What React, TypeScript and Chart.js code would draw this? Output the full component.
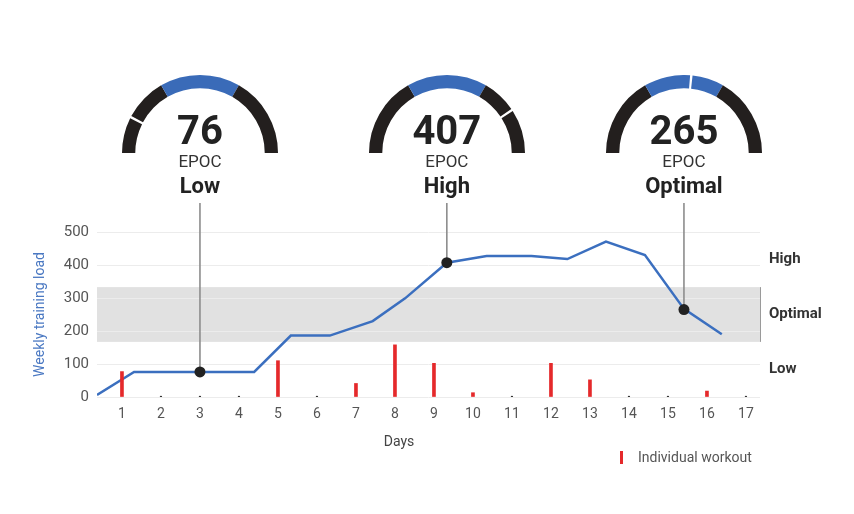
import React, { useEffect, useRef } from "react";
import { Chart, registerables } from "chart.js";

Chart.register(...registerables);
Chart.defaults.font.family = "Roboto";

// ---- data ----
const lineDays = [0.36, 1.31, 4.39, 5.33, 6.33, 7.43, 8.26, 9.33, 10.35, 11.5, 12.42, 13.41, 14.41, 15.41, 16.38];
const lineLoad = [6, 76, 76, 186, 186, 230, 299, 407, 427, 427, 418, 471, 430, 267, 190];
const workoutDays = [1, 2, 3, 4, 5, 6, 7, 8, 9, 10, 11, 12, 13, 14, 15, 16, 17];
const workoutLoad = [77, 0, 0, 0, 110, 0, 41, 158, 102, 13, 0, 102, 52, 0, 0, 18, 0];
const epocDays = [3, 9.33, 15.41];
const epocValues = [76, 407, 265];
const epocLabels = ["Low", "High", "Optimal"];
const zoneBounds = [0, 167, 333, 500];
const zoneNames = ["Low", "Optimal", "High"];
const yTicks = [0, 100, 200, 300, 400, 500];
const dayTicks = [1, 2, 3, 4, 5, 6, 7, 8, 9, 10, 11, 12, 13, 14, 15, 16, 17];
const xMin = 0.36;
const xMax = 17.36;

const BLUE = "#3b6fbf";
const DARK = "#231f1e";
const RED = "#e5292b";
const GAUGE_BLUE = "#3a6bb8";

// gauge centres in page px (same mapping as the main chart's x scale)
const plotLeft = 97;
const plotRight = 760;
const dayToPx = (d: number) => plotLeft + ((d - xMin) / (xMax - xMin)) * (plotRight - plotLeft);

function gaugeData(value: number) {
  const gap = 5;
  const data: number[] = [];
  const colors: string[] = [];
  for (let i = 0; i < 3; i++) {
    const a = zoneBounds[i];
    const b = zoneBounds[i + 1];
    const c = i === 1 ? GAUGE_BLUE : DARK;
    if (value >= a && value < b) {
      data.push(value - gap / 2 - a, gap, b - (value + gap / 2));
      colors.push(c, "rgba(255,255,255,0)", c);
    } else {
      data.push(b - a);
      colors.push(c);
    }
  }
  return { data, colors };
}

const R = 78;
const CY = 153;

function Gauge({ value, label, day }: { value: number; label: string; day: number }) {
  const ref = useRef<HTMLCanvasElement>(null);
  const cx = dayToPx(day);
  useEffect(() => {
    const { data, colors } = gaugeData(value);
    const chart = new Chart(ref.current!, {
      type: "doughnut",
      data: { datasets: [{ data, backgroundColor: colors, borderWidth: 0 }] },
      options: {
        responsive: false,
        animation: false,
        circumference: 180,
        rotation: -90,
        cutout: "83%",
        layout: { padding: 0 },
        plugins: { legend: { display: false }, tooltip: { enabled: false } },
        events: [],
      },
    });
    return () => chart.destroy();
  }, [value]);
  const textBase: React.CSSProperties = {
    position: "absolute",
    left: cx - 100,
    width: 200,
    textAlign: "center",
    fontFamily: "Roboto",
    color: "#222",
    whiteSpace: "nowrap",
  };
  return (
    <>
      <canvas
        ref={ref}
        width={R * 2}
        height={R}
        style={{ position: "absolute", left: cx - R, top: CY - R, width: R * 2, height: R }}
      />
      <div style={{ ...textBase, top: 131 - 22, height: 44, lineHeight: "44px", fontSize: 40, fontWeight: 700 }}>
        {value}
      </div>
      <div style={{ ...textBase, top: 161 - 10, height: 20, lineHeight: "20px", fontSize: 17, color: "#333" }}>EPOC</div>
      <div style={{ ...textBase, top: 186 - 13, height: 26, lineHeight: "26px", fontSize: 22, fontWeight: 700 }}>
        {label}
      </div>
    </>
  );
}

export default function App() {
  const ref = useRef<HTMLCanvasElement>(null);
  useEffect(() => {
    const bandPlugin = {
      id: "band",
      beforeDraw(chart: any) {
        const { ctx, chartArea, scales } = chart;
        const y = scales.y;
        const top = y.getPixelForValue(zoneBounds[2]);
        const bot = y.getPixelForValue(zoneBounds[1]);
        ctx.save();
        ctx.fillStyle = "#e1e1e1";
        ctx.fillRect(chartArea.left, top, chartArea.right - chartArea.left, bot - top);
        ctx.strokeStyle = "#9a9a9a";
        ctx.lineWidth = 1;
        ctx.beginPath();
        ctx.moveTo(chartArea.right + 0.5, top);
        ctx.lineTo(chartArea.right + 0.5, bot);
        ctx.stroke();
        ctx.restore();
      },
    };
    const leaderPlugin = {
      id: "leaders",
      beforeDatasetsDraw(chart: any) {
        const { ctx, chartArea, scales } = chart;
        ctx.save();
        ctx.strokeStyle = "#8c8c8c";
        ctx.lineWidth = 1.6;
        epocDays.forEach((d, i) => {
          const x = scales.x.getPixelForValue(d);
          const y = scales.y.getPixelForValue(epocValues[i]);
          ctx.beginPath();
          ctx.moveTo(x, y);
          ctx.lineTo(x, chartArea.top - 29);
          ctx.stroke();
        });
        ctx.restore();
      },
    };
    const chart = new Chart(ref.current!, {
      type: "line",
      data: {
        datasets: [
          {
            type: "line",
            data: lineDays.map((d, i) => ({ x: d, y: lineLoad[i] })),
            borderColor: BLUE,
            borderWidth: 2.5,
            pointRadius: 0,
            tension: 0,
            order: 3,
          } as any,
          {
            type: "bar",
            data: workoutDays.map((d, i) => ({ x: d, y: workoutLoad[i] })).filter((p) => p.y > 0),
            backgroundColor: RED,
            barThickness: 3,
            order: 2,
          } as any,
          {
            type: "scatter",
            data: workoutDays.map((d, i) => ({ x: d, y: workoutLoad[i] })).filter((p) => p.y === 0),
            pointRadius: 1.2,
            pointBackgroundColor: "#333",
            pointBorderWidth: 0,
            order: 2,
          } as any,
          {
            type: "scatter",
            data: epocDays.map((d, i) => ({ x: d, y: epocValues[i] })),
            pointRadius: 5.5,
            pointBackgroundColor: "#222",
            pointBorderWidth: 0,
            order: 1,
          } as any,
        ],
      },
      options: {
        responsive: false,
        animation: false,
        events: [],
        layout: { padding: { left: 28, right: 14, top: 232, bottom: 87 } },
        plugins: { legend: { display: false }, tooltip: { enabled: false } },
        scales: {
          x: {
            type: "linear",
            min: xMin,
            max: xMax,
            offset: false,
            grid: { display: false, drawTicks: false, offset: false },
            border: { display: false },
            afterBuildTicks: (s: any) => {
              s.ticks = dayTicks.map((v) => ({ value: v }));
            },
            afterFit: (s: any) => {
              s.height = 30;
            },
            ticks: { color: "#555", font: { size: 14 }, padding: 9, callback: (v: any) => String(v) },
          },
          y: {
            min: 0,
            max: 500,
            afterBuildTicks: (s: any) => {
              s.ticks = yTicks.map((v) => ({ value: v }));
            },
            afterFit: (s: any) => {
              s.width = 69;
            },
            grid: { color: "#ececec", drawTicks: false },
            border: { display: false },
            ticks: { color: "#555", font: { size: 15 }, padding: 8 },
            title: {
              display: true,
              text: "Weekly training load",
              color: "#4a78c2",
              font: { size: 14 },
            },
          },
          y2: {
            position: "right",
            min: 0,
            max: 500,
            afterBuildTicks: (s: any) => {
              s.ticks = zoneNames.map((_, i) => ({ value: (zoneBounds[i] + zoneBounds[i + 1]) / 2 }));
            },
            afterFit: (s: any) => {
              s.width = 80;
            },
            grid: { display: false, drawTicks: false },
            border: { display: false },
            ticks: {
              color: "#333",
              font: { size: 15, weight: "bold" },
              padding: 9,
              callback: (_v: any, i: number) => zoneNames[i],
            },
          },
        },
      },
      plugins: [bandPlugin, leaderPlugin],
    });
    return () => chart.destroy();
  }, []);

  return (
    <div style={{ position: "absolute", left: 0, top: 0, width: 854, height: 514, background: "#fff", overflow: "hidden" }}>
      <canvas ref={ref} width={854} height={514} style={{ position: "absolute", left: 0, top: 0, width: 854, height: 514 }} />
      {epocValues.map((v, i) => (
        <Gauge key={i} value={v} label={epocLabels[i]} day={epocDays[i]} />
      ))}
      <div
        style={{
          position: "absolute",
          left: 349,
          width: 100,
          top: 432,
          height: 18,
          lineHeight: "18px",
          textAlign: "center",
          fontFamily: "Roboto",
          fontSize: 14,
          color: "#444",
        }}
      >
        Days
      </div>
      <div style={{ position: "absolute", left: 620, top: 451, width: 3, height: 13, background: RED }} />
      <div
        style={{
          position: "absolute",
          left: 638,
          top: 448,
          height: 18,
          lineHeight: "18px",
          fontFamily: "Roboto",
          fontSize: 14,
          color: "#555",
          whiteSpace: "nowrap",
        }}
      >
        Individual workout
      </div>
    </div>
  );
}
